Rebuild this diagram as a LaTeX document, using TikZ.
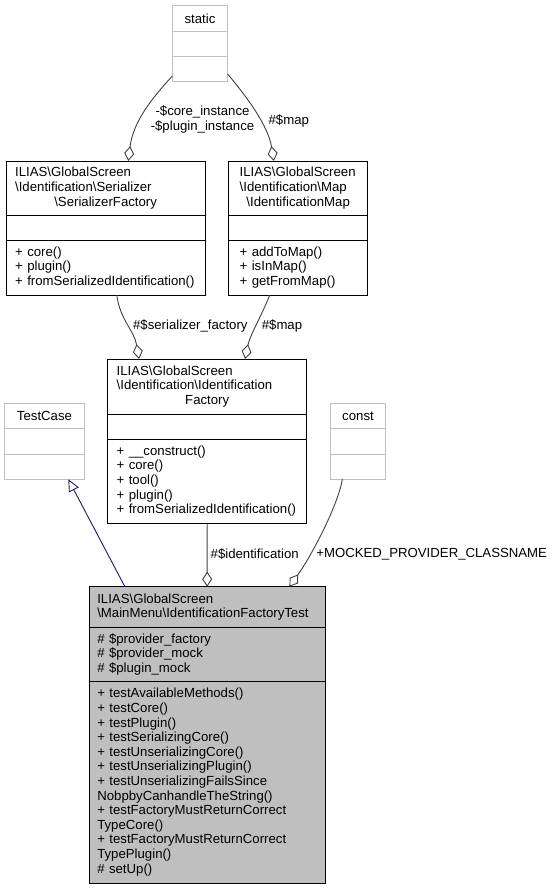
\documentclass[tikz,border=0pt]{standalone}
\usepackage{fontspec}
\setmainfont{Liberation Sans}
\usetikzlibrary{positioning,arrows.meta}
\definecolor{grey75}{HTML}{BFBFBF}
\definecolor{grey25}{HTML}{404040}
\definecolor{navy}{HTML}{191970}
\newcommand{\bsl}{\textbackslash}
\newcommand{\midline}[1]{\hspace*{\fill}#1\hspace*{\fill}\null}
\newcommand{\umlfont}{\fontsize{13.2}{14.6}\selectfont}
\begin{document}
\begin{tikzpicture}[x=1pt, y=-1pt, font=\umlfont,
  box/.style={draw, line width=1pt, outer sep=0pt, inner sep=0pt, align=left, minimum width=#1},
  faint/.style={box=#1, draw=grey75, align=center},
  member/.style={draw=grey25, line width=0.9pt, -{Diamond[open, length=15pt, width=10pt]}},
  inherit/.style={draw=navy, line width=0.9pt, -{Triangle[open, length=12pt, width=11pt]}},
  lbl/.style={inner sep=0pt}]
\useasboundingbox (0,0) rectangle (555,889);

\node[faint=55.4pt, anchor=north west, minimum height=26pt] (staticname) at (172.3,5.7) {static};
\node[faint=55.4pt, below=0pt of staticname, minimum height=25pt] (staticattr) {};
\node[faint=55.4pt, below=0pt of staticattr, minimum height=25pt] (staticops) {};

\node[box=199.3pt, anchor=north west, text width=181pt, minimum height=54pt] (sfname) at (6,161)
  {ILIAS\bsl GlobalScreen\\ \bsl Identification\bsl Serializer\\ \midline{\bsl SerializerFactory}};
\node[box=199.3pt, below=0pt of sfname, minimum height=25pt] (sfattr) {};
\node[box=199.3pt, below=0pt of sfattr, text width=181pt, minimum height=55pt] (sfops)
  {+ core()\\ + plugin()\\ + fromSerializedIdentification()};

\node[box=139pt, anchor=north west, text width=117pt, minimum height=54pt] (imname) at (228.7,161)
  {ILIAS\bsl GlobalScreen\\ \bsl Identification\bsl Map\\ \midline{\bsl IdentificationMap}};
\node[box=139pt, below=0pt of imname, minimum height=25pt] (imattr) {};
\node[box=139pt, below=0pt of imattr, text width=117pt, minimum height=55pt] (imops)
  {+ addToMap()\\ + isInMap()\\ + getFromMap()};

\node[box=199pt, anchor=north west, text width=181pt, minimum height=55pt] (ifname) at (107.7,359)
  {ILIAS\bsl GlobalScreen\\ \bsl Identification\bsl Identification\\ \midline{Factory}};
\node[box=199pt, below=0pt of ifname, minimum height=25pt] (ifattr) {};
\node[box=199pt, below=0pt of ifattr, text width=181pt, minimum height=84.3pt] (ifops)
  {+ \_\_construct()\\ + core()\\ + tool()\\ + plugin()\\ + fromSerializedIdentification()};

\node[faint=79.6pt, anchor=north west, minimum height=25pt] (tcname) at (4.7,403.3) {TestCase};
\node[faint=79.6pt, below=0pt of tcname, minimum height=25.7pt] (tcattr) {};
\node[faint=79.6pt, below=0pt of tcattr, minimum height=25.3pt] (tcops) {};

\node[faint=54.6pt, anchor=north west, minimum height=25pt] (constname) at (330.7,403.3) {const};
\node[faint=54.6pt, below=0pt of constname, minimum height=25.7pt] (constattr) {};
\node[faint=54.6pt, below=0pt of constattr, minimum height=25.3pt] (constops) {};

\node[box=235.7pt, fill=grey75, anchor=north west, text width=219.7pt, minimum height=41pt] (testname) at (89.3,586.7)
  {ILIAS\bsl GlobalScreen\\ \bsl MainMenu\bsl IdentificationFactoryTest};
\node[box=235.7pt, fill=grey75, below=0pt of testname, text width=219.7pt, minimum height=53.3pt] (testattr)
  {\# \$provider\_factory\\ \# \$provider\_mock\\ \# \$plugin\_mock};
\node[box=235.7pt, fill=grey75, below=0pt of testattr, text width=219.7pt, minimum height=202.3pt] (testops)
  {+ testAvailableMethods()\\ + testCore()\\ + testPlugin()\\ + testSerializingCore()\\
   + testUnserializingCore()\\ + testUnserializingPlugin()\\ + testUnserializingFailsSince\\
   NobpbyCanhandleTheString()\\ + testFactoryMustReturnCorrect\\ TypeCore()\\
   + testFactoryMustReturnCorrect\\ TypePlugin()\\ \# setUp()};

\draw[member] (staticops.194) .. controls (152,98) and (133,122) .. (sfname.50);
\draw[member] (staticops.-10) .. controls (246,96) and (268,125) .. (imname.132);
\draw[member] (sfops.-68) .. controls (120,320) and (134,330) .. (ifname.158);
\draw[member] (imops.-136) .. controls (262,315) and (250,335) .. (ifname.36);
\draw[member] (ifops.south) -- (testname.north);
\draw[member] (constops.-141) .. controls (338,505) and (312,555) .. (testname.14);
\draw[inherit] (testname.166) -- (tcops.-28);

\node[lbl, align=center] (instlbl) at (202.5,119.7) {-\$core\_instance\\ -\$plugin\_instance};
\node[lbl] (maplbl) at (288.8,120.7) {\#\$map};
\node[lbl] (serlbl) at (190.3,326) {\#\$serializer\_factory};
\node[lbl] (idmaplbl) at (282,326) {\#\$map};
\node[lbl] (identlbl) at (254.7,554.3) {\#\$identification};
\node[lbl] (mocklbl) at (431.7,554.3) {+MOCKED\_PROVIDER\_CLASSNAME};

\end{tikzpicture}
\end{document}
